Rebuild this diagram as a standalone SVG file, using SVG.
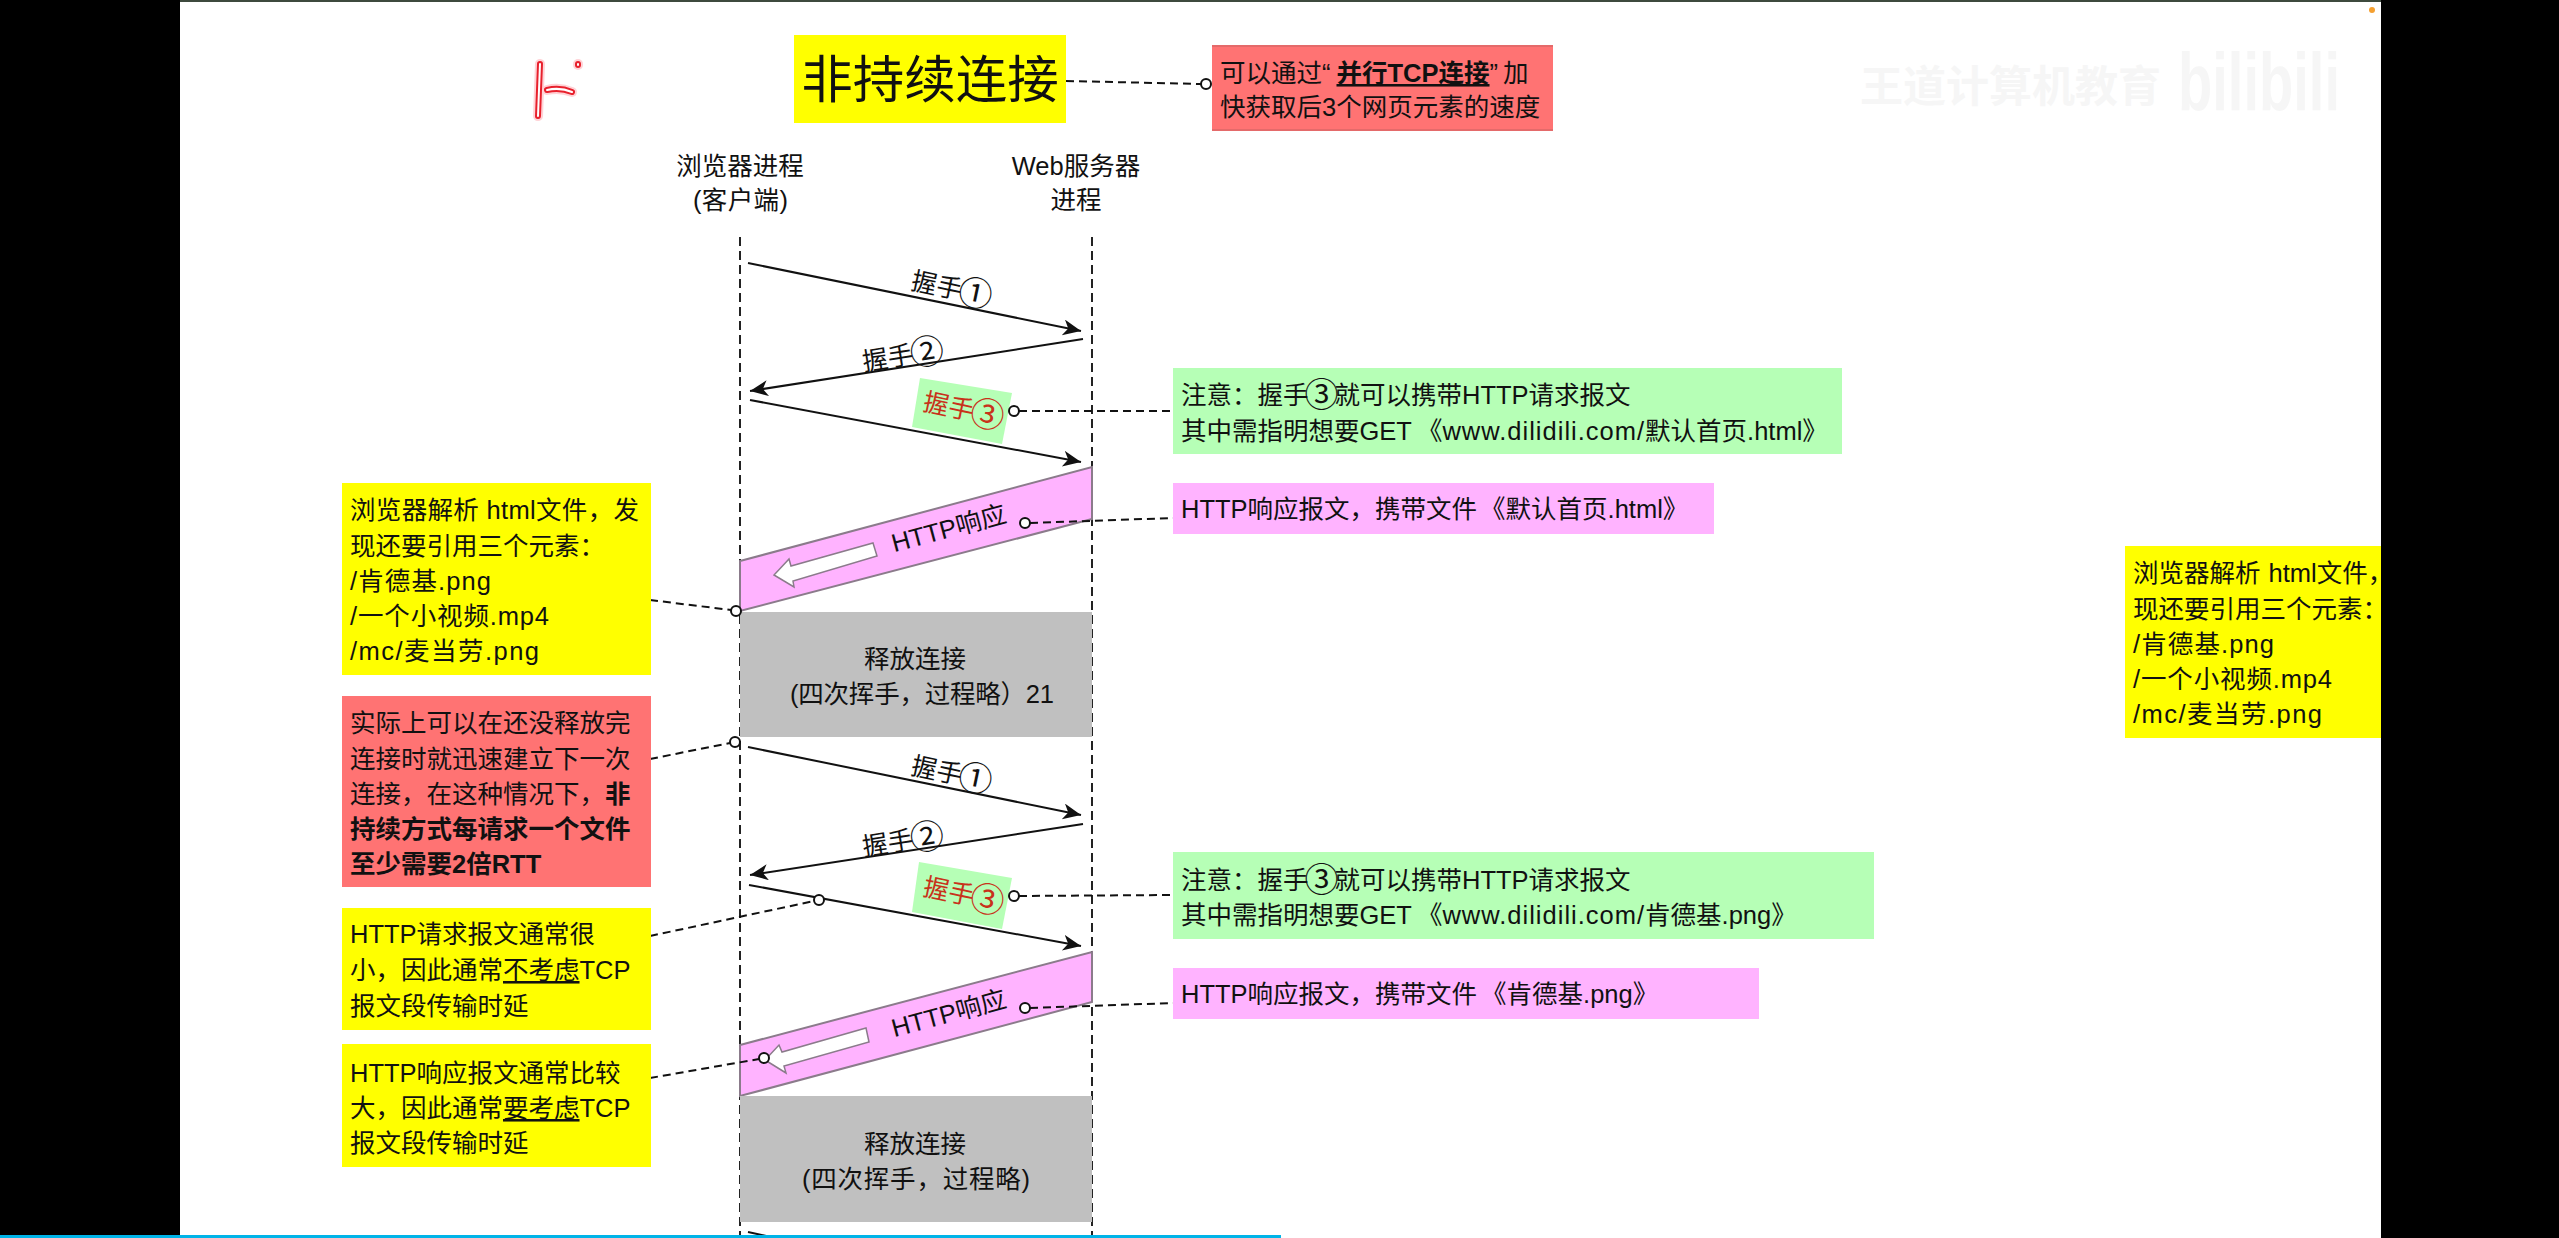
<svg xmlns="http://www.w3.org/2000/svg" width="2559" height="1238" viewBox="0 0 2559 1238">
<defs>
<style>
text{font-family:"Liberation Sans","Noto Sans CJK SC",sans-serif;font-size:25.5px;fill:#111}
.c{text-anchor:middle}
.b{font-weight:bold}
.u{text-decoration:underline}
.n{font-size:34px}
.y{fill:#ffff00}.g{fill:#b6ffb6}.p{fill:#ffb3ff}.r{fill:#ff7373}.k{fill:#c0c0c0}
.life{stroke:#222;stroke-width:2;stroke-dasharray:9 5;fill:none}
.dash{stroke:#111;stroke-width:2;stroke-dasharray:8 5;fill:none}
.dot{fill:#fff;stroke:#111;stroke-width:2}
.arr{stroke:#111;stroke-width:2;fill:none;marker-end:url(#head)}
.band{fill:#ffb3ff;stroke:#8b7b8b;stroke-width:2}
.wa{fill:#fff;stroke:#8b7b8b;stroke-width:1.5}
.hs3{fill:#c8321a}
.wm{fill:#f6f6f6;font-weight:bold}
.ls{letter-spacing:1px}
</style>
<marker id="head" markerUnits="userSpaceOnUse" markerWidth="20" markerHeight="18" refX="18" refY="8" orient="auto">
<path d="M0,0 L18,8 L0,16 L5,8 Z" fill="#111"/>
</marker>
</defs>
<rect width="2559" height="1238" fill="#000"/>
<rect x="180" y="0" width="2201" height="1238" fill="#fff"/>
<rect x="180" y="0" width="2201" height="2" fill="#3d4a3d"/>

<g id="watermark">
<text class="wm" x="1860" y="102" style="font-size:43px">王道计算机教育</text>
<text class="wm" x="2178" y="110" style="font-size:82px" textLength="162" lengthAdjust="spacingAndGlyphs">bilibili</text>
</g>
<g id="pen-mark" fill="none" stroke-linecap="round">
<g stroke="#ff5060" stroke-width="10" opacity="0.25"><path d="M540,64 L538,116"/><path d="M547,90 Q560,87 572,92"/><path d="M578,64 L578,65"/></g>
<g stroke="#e8202c" stroke-width="6"><path d="M540,64 L538,116"/><path d="M547,90 Q560,87 572,92"/><path d="M578,64 L578,65"/></g>
<g stroke="#fff" stroke-width="2"><path d="M540,64 L538,116"/><path d="M547,90 Q560,87 572,92"/><path d="M578,64 L578,65"/></g>
</g>
<circle cx="2372" cy="10" r="3" fill="#f5a030"/>

<g id="lifelines">
<path class="life" d="M740,237 V1238"/>
<path class="life" d="M1092,237 V1238"/>
</g>

<g id="title"><rect class="y" x="794" y="35" width="272" height="88"/><text class="c" x="930" y="98" style="font-size:51.5px">非持续连接</text></g>
<g id="tip-parallel"><rect class="r" x="1212" y="45" width="341" height="86"/><path d="M1212,46 H1553 M1212,130 H1553" stroke="#e46a6a" stroke-width="2"/><text x="1220" y="82">可以通过“<tspan class="b u" dx="6">并行TCP连接</tspan>”<tspan dx="5">加</tspan></text><text x="1220" y="116">快获取后3个网页元素的速度</text></g>
<g id="client"><text class="c" x="740" y="175">浏览器进程</text><text x="693" y="209" textLength="95">(客户端)</text></g>
<g id="server"><text class="c" x="1076" y="175">Web服务器</text><text class="c" x="1076" y="209">进程</text></g>

<g id="band-1"><path class="band" d="M740,561 L1092,467 V519 L740,611 Z"/><path class="wa" d="M873,543 L877,556 L793,581 L794,587 L774,575 L789,559 L791,566 Z"/><text class="c" transform="translate(951,537) rotate(-15)">HTTP响应</text></g>
<g id="release-1"><rect class="k" x="740" y="612" width="352" height="125"/><text class="c" x="915" y="668">释放连接</text><text x="790" y="703" textLength="264">(四次挥手，过程略）21</text></g>
<g id="band-2"><path class="band" d="M740,1045 L1092,952 V1002 L740,1096 Z"/><path class="wa" d="M866,1028 L869,1042 L784,1066 L786,1073 L765,1060 L779,1045 L782,1052 Z"/><text class="c" transform="translate(951,1022) rotate(-15)">HTTP响应</text></g>
<g id="release-2"><rect class="k" x="740" y="1096" width="352" height="126"/><text class="c" x="915" y="1153">释放连接</text><text x="802" y="1188" textLength="228">(四次挥手，过程略)</text></g>

<g id="hs3-label-1"><path class="g" d="M920,378 L1012,393 L1002,444 L912,427 Z"/><text class="hs3" transform="translate(922,410) rotate(12)">握手<tspan class="n" dx="-3" dy="3">③</tspan></text></g>
<g id="hs3-label-2"><path class="g" d="M919,862 L1012,878 L1002,929 L912,912 Z"/><text class="hs3" transform="translate(922,895) rotate(12)">握手<tspan class="n" dx="-3" dy="3">③</tspan></text></g>

<g id="connectors">
<path class="arr" d="M748,263 L1081,331"/>
<path class="arr" d="M1083,339 L750,391"/>
<path class="arr" d="M750,400 L1081,462"/>
<path class="arr" d="M748,747 L1081,815"/>
<path class="arr" d="M1083,824 L750,875"/>
<path class="arr" d="M749,885 L1081,946"/>
<path d="M748,1232 L775,1238" stroke="#111" stroke-width="2" fill="none"/>
<path class="dash" d="M1066,81 L1201,84"/>
<path class="dash" d="M1019,411 L1173,411"/>
<path class="dash" d="M1030,523 L1173,518"/>
<path class="dash" d="M1019,896 L1173,895"/>
<path class="dash" d="M1030,1008 L1173,1003"/>
<path class="dash" d="M650,600 L731,610"/>
<path class="dash" d="M650,759 L730,743"/>
<path class="dash" d="M650,936 L814,901"/>
<path class="dash" d="M650,1078 L759,1059"/>
<circle class="dot" cx="1206" cy="84" r="5"/>
<circle class="dot" cx="1014" cy="411" r="5"/>
<circle class="dot" cx="1025" cy="523" r="5"/>
<circle class="dot" cx="1014" cy="896" r="5"/>
<circle class="dot" cx="1025" cy="1008" r="5"/>
<circle class="dot" cx="736" cy="611" r="5"/>
<circle class="dot" cx="735" cy="742" r="5"/>
<circle class="dot" cx="819" cy="900" r="5"/>
<circle class="dot" cx="764" cy="1058" r="5"/>
</g>

<g id="edge-labels">
<text transform="translate(910,289) rotate(12)">握手<tspan class="n" dx="-3" dy="3">①</tspan></text>
<text transform="translate(864,371) rotate(-9)">握手<tspan class="n" dx="-3" dy="3">②</tspan></text>
<text transform="translate(910,774) rotate(12)">握手<tspan class="n" dx="-3" dy="3">①</tspan></text>
<text transform="translate(864,856) rotate(-9)">握手<tspan class="n" dx="-3" dy="3">②</tspan></text>
</g>

<g id="note-green-1"><rect class="g" x="1173" y="368" width="669" height="86"/><text x="1181" y="404">注意：握手<tspan class="n" dx="-4" dy="3">③</tspan><tspan dx="-4" dy="-3">就可以携带HTTP请求报文</tspan></text><text x="1181" y="440">其中需指明想要GET<tspan dx="5">《</tspan><tspan class="ls">www.dilidili.com/</tspan>默认首页.html》</text></g>
<g id="note-pink-1"><rect class="p" x="1173" y="483" width="541" height="51"/><text x="1181" y="518">HTTP响应报文，携带文件<tspan dx="3">《默认首页.html》</tspan></text></g>
<g id="note-green-2"><rect class="g" x="1173" y="852" width="701" height="87"/><text x="1181" y="889">注意：握手<tspan class="n" dx="-4" dy="3">③</tspan><tspan dx="-4" dy="-3">就可以携带HTTP请求报文</tspan></text><text x="1181" y="924">其中需指明想要GET<tspan dx="5">《</tspan><tspan class="ls">www.dilidili.com/</tspan>肯德基.png》</text></g>
<g id="note-pink-2"><rect class="p" x="1173" y="968" width="586" height="51"/><text x="1181" y="1003">HTTP响应报文，携带文件<tspan dx="4">《肯德基.png》</tspan></text></g>

<g id="note-parse"><rect class="y" x="342" y="483" width="309" height="192"/><text x="350" y="519" textLength="289">浏览器解析 html文件，发</text><text x="350" y="555">现还要引用三个元素：</text><text x="350" y="590" textLength="141">/肯德基.png</text><text x="350" y="625" textLength="199">/一个小视频.mp4</text><text x="350" y="660" textLength="189">/mc/麦当劳.png</text></g>
<g id="note-early"><rect class="r" x="342" y="696" width="309" height="191"/><text x="350" y="732">实际上可以在还没释放完</text><text x="350" y="768">连接时就迅速建立下一次</text><text x="350" y="803">连接，在这种情况下，<tspan class="b">非</tspan></text><text class="b" x="350" y="838">持续方式每请求一个文件</text><text class="b" x="350" y="873">至少需要2倍RTT</text></g>
<g id="note-request"><rect class="y" x="342" y="908" width="309" height="122"/><text x="350" y="943">HTTP请求报文通常很</text><text x="350" y="979">小，因此通常<tspan class="u">不考虑</tspan>TCP</text><text x="350" y="1015">报文段传输时延</text></g>
<g id="note-response"><rect class="y" x="342" y="1044" width="309" height="123"/><text x="350" y="1082">HTTP响应报文通常比较</text><text x="350" y="1117">大，因此通常<tspan class="u">要考虑</tspan>TCP</text><text x="350" y="1152">报文段传输时延</text></g>

<g id="note-parse-copy"><rect class="y" x="2125" y="546" width="256" height="192"/><text x="2133" y="582" word-spacing="1">浏览器解析 html文件，</text><text x="2133" y="618">现还要引用三个元素：</text><text x="2133" y="653" textLength="141">/肯德基.png</text><text x="2133" y="688" textLength="199">/一个小视频.mp4</text><text x="2133" y="723" textLength="189">/mc/麦当劳.png</text></g>

<rect x="2381" y="0" width="178" height="1238" fill="#000"/>
<rect x="0" y="1235" width="1281" height="3" fill="#00b4e8"/>
</svg>
